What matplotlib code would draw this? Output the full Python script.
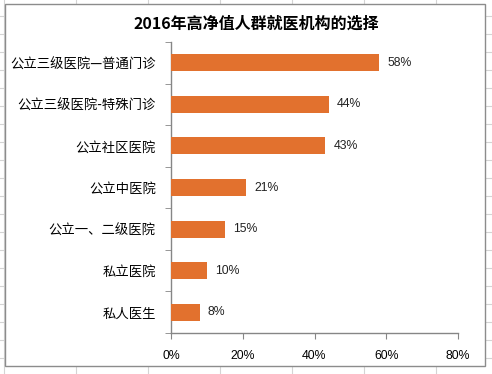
import matplotlib
matplotlib.use("Agg")
import matplotlib.pyplot as plt
from matplotlib.patches import Rectangle
from matplotlib.lines import Line2D
from matplotlib.ticker import FuncFormatter

plt.rcParams['font.family'] = ['Noto Sans CJK SC', 'DejaVu Sans']

title = "2016年高净值人群就医机构的选择"
categories = ["公立三级医院—普通门诊", "公立三级医院-特殊门诊", "公立社区医院",
              "公立中医院", "公立一、二级医院", "私立医院", "私人医生"]
values = [58, 44, 43, 21, 15, 10, 8]
xticks = [0, 20, 40, 60, 80]

W, H = 492, 374
fig = plt.figure(figsize=(W / 100, H / 100), dpi=100)
fig.patch.set_facecolor("white")

# spreadsheet grid behind the chart
grid_c = "#d4d4d4"
for x in range(4, W + 80, 72):
    fig.add_artist(Line2D([x / W, x / W], [0, 1], color=grid_c, lw=0.8, zorder=0))
for y in range(16, H + 20, 18):
    fig.add_artist(Line2D([0, 1], [1 - y / H, 1 - y / H], color=grid_c, lw=0.8, zorder=0))

# chart area
fig.add_artist(Rectangle((5 / W, 1 - 366 / H), 480 / W, 362 / H, transform=fig.transFigure,
                         facecolor="white", edgecolor="#8c8c8c", lw=1.0, zorder=1))

ax = fig.add_axes([171 / W, 1 - 333 / H, 287 / W, 291 / H], zorder=2)
ax.set_facecolor("none")

ypos = list(range(len(categories)))
ax.barh(ypos, values, height=0.41, color="#E2712E", zorder=3)
ax.set_ylim(len(categories) - 0.5, -0.5)
ax.set_xlim(0, 80)
ax.set_xticks(xticks)
ax.xaxis.set_major_formatter(FuncFormatter(lambda v, p: f"{v:.0f}%"))
ax.set_yticks(ypos)
ax.set_yticklabels(categories, fontsize=9.6)
ax.set_yticks([i - 0.5 for i in range(len(categories) + 1)], minor=True)

for s in ["top", "right"]:
    ax.spines[s].set_visible(False)
for s in ["left", "bottom"]:
    ax.spines[s].set_color("#868686")
    ax.spines[s].set_linewidth(1.0)

ax.tick_params(axis="y", which="major", length=0, pad=11)
ax.tick_params(axis="y", which="minor", length=4, color="#868686", direction="out")
ax.tick_params(axis="x", length=4, color="#868686", direction="out", pad=8,
               labelsize=8.8)
for lab in ax.get_xticklabels():
    lab.set_family(["Liberation Sans", "DejaVu Sans"])

for i, v in enumerate(values):
    ax.text(v + 2.3, i, f"{v}%", va="center", ha="left", fontsize=8.8,
            family=["Liberation Sans", "DejaVu Sans"], color="#222222")

fig.text(0.5 + 0.02, 1 - 24 / H, title, ha="center", va="center", fontsize=11.5,
         fontweight="bold", zorder=3)

fig.savefig("out.png", dpi=100)
